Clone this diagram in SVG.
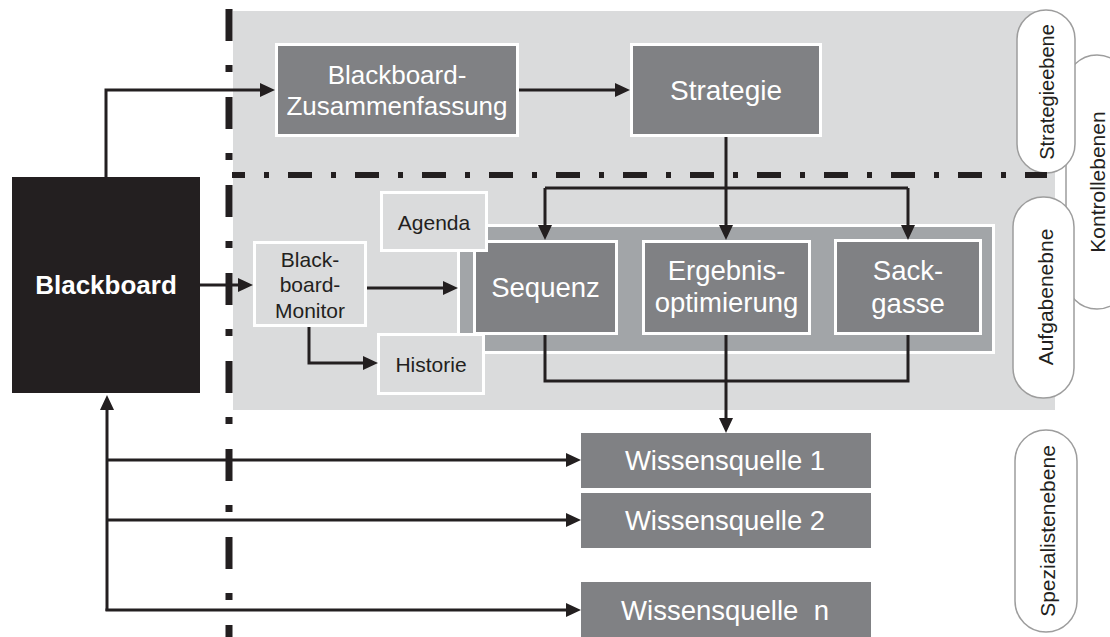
<svg xmlns="http://www.w3.org/2000/svg" width="1110" height="637" viewBox="0 0 1110 637">
<style>
.dark{fill:#808184;stroke:#ffffff;stroke-width:3}
.light{fill:#dadbdc;stroke:#ffffff;stroke-width:3}
.wq{fill:#808184}
.pill{fill:#ffffff;stroke:#9d9d9d;stroke-width:1.5}
.tw{font-family:"Liberation Sans",Arial,sans-serif;fill:#ffffff;text-anchor:middle}
.td{font-family:"Liberation Sans",Arial,sans-serif;fill:#231f20;text-anchor:middle}
.conn{fill:none;stroke:#231f20;stroke-width:3}
</style>
<defs>
<marker id="ah" viewBox="0 0 15 14" markerWidth="15" markerHeight="14" refX="11" refY="7" orient="auto" markerUnits="userSpaceOnUse">
<path d="M0,0 L15,7 L0,14 z" fill="#231f20"/>
</marker>
</defs>
<rect width="1110" height="637" fill="#ffffff"/>
<g id="background">
<rect x="233" y="11" width="822" height="399" fill="#dadbdc"/>
</g>
<g id="level-labels">
<rect class="pill" x="1066" y="55" width="62" height="254" rx="31"/>
<text class="td" font-size="21" transform="translate(1097,182) rotate(-90)" dominant-baseline="central">Kontrollebenen</text>
<rect class="pill" x="1017" y="10" width="58" height="163" rx="29"/>
<text class="td" font-size="20" transform="translate(1047,92) rotate(-90)" dominant-baseline="central">Strategieebene</text>
<rect class="pill" x="1013" y="197" width="61" height="201" rx="30"/>
<text class="td" font-size="21" transform="translate(1045,297) rotate(-90)" dominant-baseline="central">Aufgabenebne</text>
<rect class="pill" x="1015" y="430" width="62" height="202" rx="31"/>
<text class="td" font-size="21" transform="translate(1047,531) rotate(-90)" dominant-baseline="central">Spezialistenebene</text>
</g>
<g id="separators">
<line x1="229" y1="9" x2="229" y2="637" stroke="#231f20" stroke-width="7" stroke-dasharray="32 24 7 25"/>
<line x1="232" y1="175" x2="1047" y2="175" stroke="#231f20" stroke-width="6" stroke-dasharray="24 19 5 19" stroke-dashoffset="11"/>
</g>
<g id="blackboard">
<rect x="12" y="177" width="188" height="216" fill="#231f20"/>
<text class="tw" x="106" y="294" font-size="26" font-weight="bold">Blackboard</text>
</g>
<g id="zusammenfassung">
<rect class="dark" x="276.5" y="44.5" width="241" height="91"/>
<text class="tw" x="397" y="84" font-size="26">Blackboard-</text>
<text class="tw" x="397" y="115" font-size="26">Zusammenfassung</text>
</g>
<g id="strategie">
<rect class="dark" x="631.5" y="44.5" width="189" height="91"/>
<text class="tw" x="726" y="100" font-size="28">Strategie</text>
</g>
<g id="aufgaben-container">
<rect x="458.5" y="225.5" width="535" height="127" fill="#a2a5a8" stroke="#ffffff" stroke-width="3"/>
</g>
<g id="sequenz">
<rect class="dark" x="474.5" y="241.5" width="142" height="92"/>
<text class="tw" x="545.5" y="297" font-size="27.5">Sequenz</text>
</g>
<g id="ergebnisoptimierung">
<rect class="dark" x="643.5" y="241.5" width="166" height="92"/>
<text class="tw" x="726.5" y="280" font-size="27.5">Ergebnis-</text>
<text class="tw" x="726.5" y="312" font-size="27.5">optimierung</text>
</g>
<g id="sackgasse">
<rect class="dark" x="835.5" y="240.5" width="145" height="93"/>
<text class="tw" x="908" y="280" font-size="27.5">Sack-</text>
<text class="tw" x="908" y="313" font-size="27.5">gasse</text>
</g>
<g id="agenda">
<rect class="light" x="381.5" y="192.5" width="105" height="58"/>
<text class="td" x="434" y="230" font-size="21">Agenda</text>
</g>
<g id="historie">
<rect class="light" x="378.5" y="334.5" width="105" height="59"/>
<text class="td" x="431" y="372" font-size="21">Historie</text>
</g>
<g id="blackboard-monitor">
<rect class="light" x="254.5" y="242.5" width="111" height="83"/>
<text class="td" x="310" y="267" font-size="21">Black-</text>
<text class="td" x="310" y="292" font-size="21">board-</text>
<text class="td" x="310" y="318" font-size="21">Monitor</text>
</g>
<g id="wissensquelle-1">
<rect class="wq" x="581" y="433" width="290" height="55"/>
<text class="tw" x="725" y="470" font-size="27.5">Wissensquelle 1</text>
</g>
<g id="wissensquelle-2">
<rect class="wq" x="581" y="493" width="290" height="55"/>
<text class="tw" x="725" y="530" font-size="27.5">Wissensquelle 2</text>
</g>
<g id="wissensquelle-n">
<rect class="wq" x="581" y="582" width="290" height="55"/>
<text class="tw" x="725" y="620" font-size="27.5" style="white-space:pre" xml:space="preserve">Wissensquelle  n</text>
</g>
<g id="connectors">
<path class="conn" d="M106,177 V90 H271" marker-end="url(#ah)"/>
<path class="conn" d="M519,90 H626" marker-end="url(#ah)"/>
<path class="conn" d="M726,137 V236" marker-end="url(#ah)"/>
<path class="conn" d="M545,188 H908"/>
<path class="conn" d="M545,188 V236" marker-end="url(#ah)"/>
<path class="conn" d="M908,188 V236" marker-end="url(#ah)"/>
<path class="conn" d="M545,335 V381 H908 V335"/>
<path class="conn" d="M726,335 V429" marker-end="url(#ah)"/>
<path class="conn" d="M200,285 H249" marker-end="url(#ah)"/>
<path class="conn" d="M367,288 H454" marker-end="url(#ah)"/>
<path class="conn" d="M309,327 V363 H374" marker-end="url(#ah)"/>
<path class="conn" d="M107,611 V399" marker-end="url(#ah)"/>
<path class="conn" d="M107,460 H577" marker-end="url(#ah)"/>
<path class="conn" d="M107,520 H577" marker-end="url(#ah)"/>
<path class="conn" d="M105.5,610 H577" marker-end="url(#ah)"/>
</g>
</svg>
